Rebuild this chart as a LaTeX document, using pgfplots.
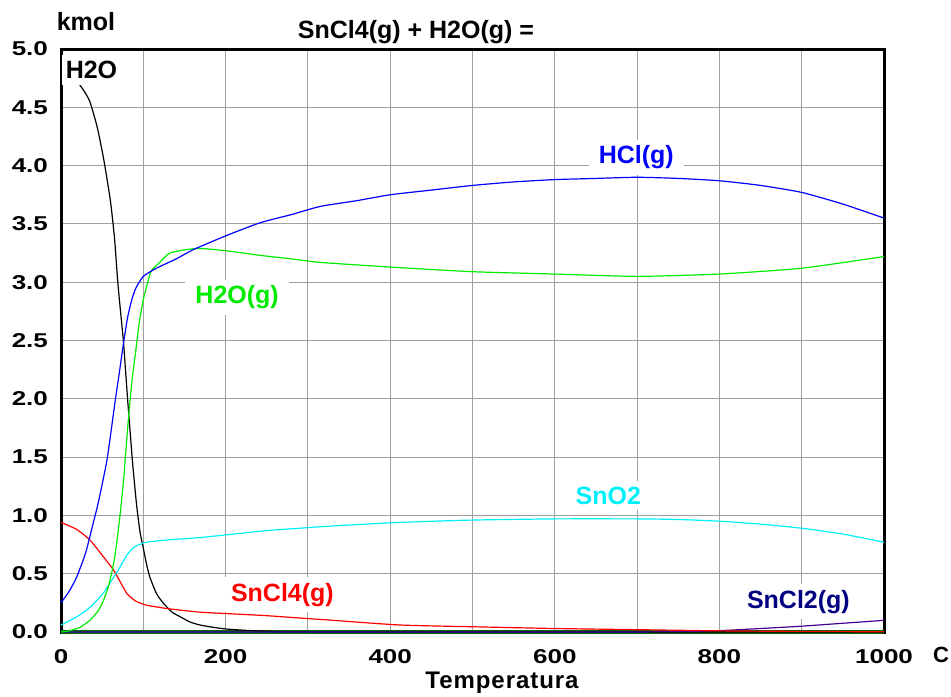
\documentclass[border=0pt]{standalone}
\usepackage{fontspec}
\setmainfont{Liberation Sans}
\newfontfamily\widefont[FakeStretch=1.3]{Liberation Sans}
\newfontfamily\spacedfont[LetterSpace=4]{Liberation Sans}
\usepackage{pgfplots}
\pgfplotsset{compat=1.18}
\definecolor{gridgray}{RGB}{160,160,160}
\definecolor{hclblue}{RGB}{0,0,255}
\definecolor{wgreen}{RGB}{0,235,0}
\definecolor{sncyan}{RGB}{0,240,250}
\definecolor{snred}{RGB}{255,0,0}
\definecolor{snnavy}{RGB}{0,0,128}
\definecolor{snpurple}{RGB}{70,0,150}
\definecolor{basegreen}{RGB}{0,100,0}

\begin{document}
\begin{tikzpicture}
\path[use as bounding box] (0,0) rectangle (475.5pt,348pt);
\begin{axis}[
 at={(30.5pt,32pt)},anchor=south west,
 scale only axis,width=411.5pt,height=291.5pt,
 xmin=0,xmax=1000,ymin=0,ymax=5,
 xtick={0,200,...,1000},minor xtick={100,300,...,900},
 ytick={0,0.5,...,5},
 grid=both,
 major grid style={gridgray,line width=0.5pt},
 minor grid style={gridgray,line width=0.5pt},
 major tick length=0pt,minor tick length=0pt,
 axis line style={line width=1.5pt},
 clip=false,
 /pgf/number format/assume math mode=true,
 /pgf/number format/1000 sep={},
 tick label style={font=\widefont\bfseries\fontsize{10}{12}\selectfont},
 yticklabel style={/pgf/number format/fixed,/pgf/number format/precision=1,/pgf/number format/fixed zerofill,xshift=-3pt},
 xticklabel style={yshift=-5pt},
 every axis plot/.append style={line width=0.6pt,smooth,tension=0.35}
]
% dark green baseline species
\addplot[basegreen,line width=1.6pt,sharp plot] coordinates {(0,0) (1000,0)};
% H2O (liquid)
\addplot[black] coordinates {(22,4.70) (28,4.64) (35,4.55) (44,4.33) (52,4.05) (60,3.70) (65,3.38) (69,3.00) (73,2.70) (76,2.48) (81,1.99) (87,1.45) (92,1.08) (96,0.86) (100,0.72) (104,0.58) (108,0.47) (116,0.33) (124,0.25) (135,0.17) (145,0.13) (157,0.085) (169,0.06) (185,0.04) (202,0.025) (230,0.012) (260,0.005) (300,0.001) (400,0) (1000,0)};
% SnCl2(g)
\addplot[snpurple] coordinates {(0,0) (600,0) (700,0.0005) (750,0.003) (801,0.012) (850,0.03) (900,0.05) (950,0.075) (1000,0.10)};
% SnCl4(g)
\addplot[snred] coordinates {(0,0.94) (19,0.88) (35,0.79) (51,0.65) (64,0.53) (72,0.43) (80,0.33) (86,0.29) (92,0.26) (104,0.23) (130,0.20) (169,0.17) (210,0.155) (250,0.14) (290,0.12) (331,0.10) (412,0.06) (500,0.045) (600,0.03) (700,0.02) (800,0.01) (900,0.005) (1000,0.002)};
% SnO2
\addplot[sncyan] coordinates {(0,0.06) (19,0.13) (35,0.21) (51,0.33) (64,0.47) (72,0.56) (80,0.66) (86,0.71) (92,0.74) (104,0.77) (130,0.79) (169,0.81) (210,0.84) (250,0.87) (290,0.89) (331,0.91) (412,0.94) (500,0.96) (600,0.97) (700,0.97) (750,0.965) (801,0.95) (850,0.925) (900,0.89) (950,0.84) (1000,0.77)};
% H2O(g)
\addplot[wgreen] coordinates {(0,0) (10,0.01) (23,0.04) (35,0.10) (45,0.18) (51,0.26) (58,0.40) (64,0.59) (68,0.78) (72,1.02) (76,1.30) (78,1.48) (81,1.75) (84,1.99) (87,2.20) (91,2.42) (95,2.65) (100,2.85) (105,2.99) (110,3.10) (120,3.17) (132,3.25) (153,3.28) (169,3.29) (200,3.27) (242,3.23) (280,3.20) (315,3.17) (400,3.13) (500,3.09) (600,3.07) (700,3.05) (800,3.07) (900,3.12) (1000,3.22)};
% HCl(g)
\addplot[hclblue] coordinates {(0,0.25) (10,0.35) (19,0.47) (30,0.68) (39,0.93) (45,1.10) (51,1.30) (56,1.48) (61,1.73) (66,1.99) (71,2.23) (76,2.48) (81,2.70) (86,2.85) (91,2.95) (100,3.05) (116,3.12) (140,3.20) (161,3.28) (201,3.40) (242,3.51) (280,3.58) (315,3.65) (360,3.70) (400,3.75) (450,3.79) (500,3.83) (550,3.86) (600,3.88) (650,3.89) (700,3.90) (750,3.89) (800,3.87) (850,3.83) (900,3.77) (950,3.67) (1000,3.55)};
% species labels
\tikzset{lbl/.style={fill=white,inner xsep=5pt,inner ysep=3pt,font=\bfseries\fontsize{12.5}{14}\selectfont}}
\node[lbl,text=black,inner xsep=2pt] at (axis cs:37,4.82) {H2O};
\node[lbl,text=hclblue] at (axis cs:699,4.07) {HCl(g)};
\node[lbl,text=wgreen] at (axis cs:214,2.87) {H2O(g)};
\node[lbl,text=sncyan] at (axis cs:665,1.17) {SnO2};
\node[lbl,text=snred] at (axis cs:269,0.32) {SnCl4(g)};
\node[lbl,text=snnavy] at (axis cs:896,0.26) {SnCl2(g)};
\end{axis}
\node[font=\bfseries\fontsize{12.5}{14}\selectfont] at (208pt,332pt) {SnCl4(g) + H2O(g) =};
\node[font=\bfseries\fontsize{12.5}{14}\selectfont] at (43pt,337pt) {kmol};
\node[font=\bfseries\fontsize{11}{13}\selectfont] at (470.5pt,20.5pt) {C};
\node[fill=white,inner sep=2pt,font=\spacedfont\bfseries\fontsize{12}{13}\selectfont,text=black] at (251pt,6.5pt) {Temperatura};
\end{tikzpicture}
\end{document}
